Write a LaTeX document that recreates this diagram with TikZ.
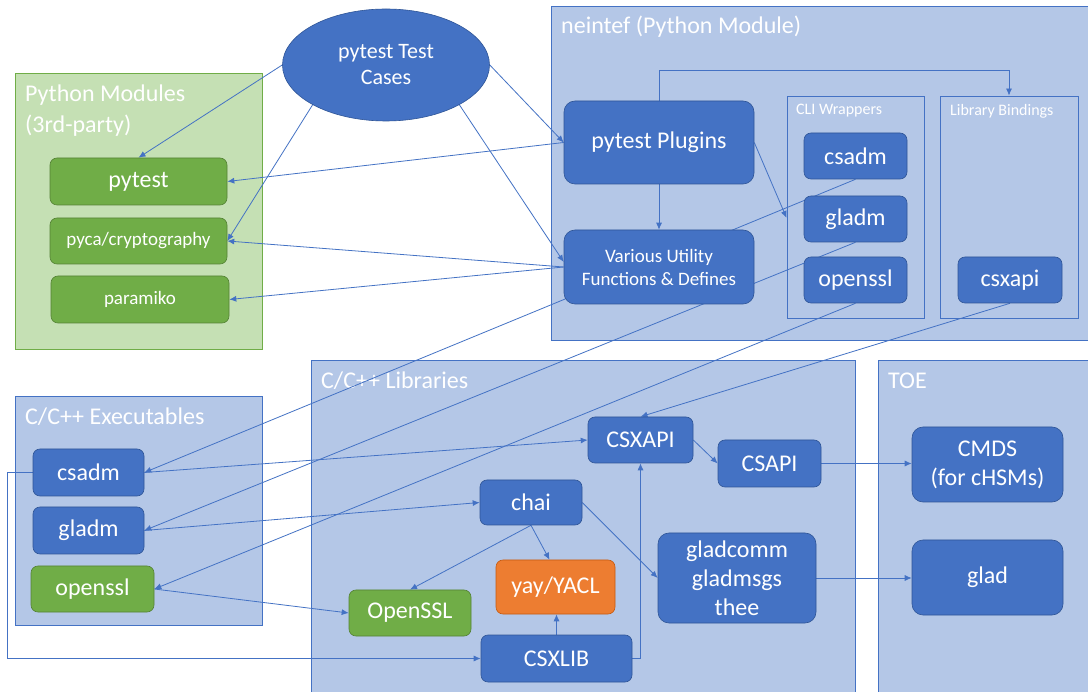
\documentclass[tikz,border=0pt]{standalone}
\usepackage{fontspec}
\setmainfont{Carlito}
\usetikzlibrary{arrows.meta, shapes.geometric}
\definecolor{nblue}{HTML}{4472C4}
\definecolor{nedge}{HTML}{2F5597}
\definecolor{grpfill}{HTML}{B4C7E7}
\definecolor{ngreen}{HTML}{70AD47}
\definecolor{gedge}{HTML}{548235}
\definecolor{gfill}{HTML}{C5E0B4}
\definecolor{norange}{HTML}{ED7D31}
\definecolor{oedge}{HTML}{C55A11}
\pgfdeclarelayer{bg}
\pgfdeclarelayer{wires}
\pgfsetlayers{bg,wires,main}

\begin{document}
\begin{tikzpicture}[x=1pt, y=-1pt,
  box/.style={draw=nedge, fill=nblue, rounded corners=7pt, text=white, align=center, line width=0.6pt, inner sep=0pt, font=\fontsize{24}{29}\selectfont},
  gbox/.style={box, draw=gedge, fill=ngreen},
  obox/.style={box, draw=oedge, fill=norange},
  grp/.style={draw=nblue, fill=grpfill, line width=0.8pt, inner sep=0pt},
  ggrp/.style={draw=ngreen, fill=gfill, line width=0.8pt, inner sep=0pt},
  ttl/.style={text=white, anchor=west, inner sep=0pt, align=left, font=\fontsize{24}{31}\selectfont},
  sttl/.style={ttl, font=\fontsize{16}{17}\selectfont},
  wire/.style={draw=nblue, line width=0.8pt, -{Latex[length=7pt,width=6pt]}}
]
\useasboundingbox (0,0) rectangle (1088,692);

\begin{pgfonlayer}{bg}
\fill[white] (0,0) rectangle (1088,692);
\node[ggrp, minimum width=247, minimum height=276] (pymods) at (138.5,211) {};
\node[grp, minimum width=544, minimum height=334] (neintef) at (823,173) {};
\node[grp, minimum width=137, minimum height=222] (cliw) at (855.5,207) {};
\node[grp, minimum width=138, minimum height=222] (libb) at (1009,207) {};
\node[grp, minimum width=247, minimum height=229] (exes) at (138.5,510.5) {};
\node[grp, minimum width=544, minimum height=340] (libs) at (583,530) {};
\node[grp, minimum width=217, minimum height=340] (toe) at (986.5,530) {};
\node[ttl] (pymodsT) at (25,110.5) {Python Modules\\(3rd-party)};
\node[ttl] (neintefT) at (561,27) {neintef (Python Module)};
\node[sttl] (cliwT) at (796,111) {CLI Wrappers};
\node[sttl] (libbT) at (950,111) {Library Bindings};
\node[ttl] (exesT) at (25,417) {C/C++ Executables};
\node[ttl] (libsT) at (321,381) {C/C++ Libraries};
\node[ttl] (toeT) at (888,381) {TOE};
\end{pgfonlayer}

\node[box, ellipse, minimum width=207, minimum height=112, font=\fontsize{22}{26}\selectfont] (cases) at (386,65) {pytest Test\\Cases};
\node[gbox, minimum width=177, minimum height=47] (pytest) at (138.5,181.5) {pytest};
\node[gbox, minimum width=177, minimum height=46, font=\fontsize{19}{20}\selectfont] (pyca) at (138.5,241) {pyca/cryptography};
\node[gbox, minimum width=178, minimum height=47, font=\fontsize{19}{20}\selectfont] (paramiko) at (140,299.5) {paramiko};
\node[box, minimum width=190, minimum height=83, rounded corners=11pt] (plug) at (659,142.5) {pytest Plugins};
\node[box, minimum width=190, minimum height=74, rounded corners=11pt, font=\fontsize{19}{23}\selectfont] (util) at (659,267) {Various Utility\\Functions \& Defines};
\node[box, minimum width=103, minimum height=46] (wcsadm) at (855.5,156) {csadm};
\node[box, minimum width=103, minimum height=46] (wgladm) at (855.5,219) {gladm};
\node[box, minimum width=103, minimum height=46] (wssl) at (855.5,280) {openssl};
\node[box, minimum width=104, minimum height=46] (bcsxapi) at (1010,280) {csxapi};
\node[box, minimum width=111, minimum height=47] (ecsadm) at (88.5,472.5) {csadm};
\node[box, minimum width=111, minimum height=47] (egladm) at (88.5,530.5) {gladm};
\node[gbox, minimum width=123, minimum height=46] (essl) at (92.5,589) {openssl};
\node[box, minimum width=102, minimum height=45] (chai) at (531,502.5) {chai};
\node[gbox, minimum width=122, minimum height=46] (ossl) at (410,613) {OpenSSL};
\node[obox, minimum width=119, minimum height=54] (yacl) at (555.5,587) {yay/YACL};
\node[box, minimum width=151, minimum height=47] (csxlib) at (556.5,658.5) {CSXLIB};
\node[box, minimum width=105, minimum height=46] (csxapi) at (640.5,440) {CSXAPI};
\node[box, minimum width=103, minimum height=47] (csapi) at (769.5,463.5) {CSAPI};
\node[box, minimum width=158, minimum height=90, rounded corners=11pt] (glc) at (737,578) {gladcomm\\gladmsgs\\thee};
\node[box, minimum width=151, minimum height=75, rounded corners=11pt] (cmds) at (987.5,464.5) {CMDS\\(for cHSMs)};
\node[box, minimum width=151, minimum height=75, rounded corners=11pt] (glad) at (987.5,577.5) {glad};

\begin{pgfonlayer}{wires}
\draw[wire] (cases.west) -- (pytest.north);
\draw[wire] (cases.south west) -- (pyca.east);
\draw[wire] (cases.east) -- (plug.west);
\draw[wire] (cases.south east) -- ([yshift=5pt]util.west);
\draw[wire] (plug.west) -- (pytest.east);
\draw[wire] (util.west) -- (pyca.east);
\draw[wire] (util.west) -- (paramiko.east);
\draw[wire] (plug.south) -- (util.north);
\draw[wire] (plug.north) -- ++(0,-30) -| (libb.north);
\draw[wire] (plug.east) -- ([yshift=-11pt]cliw.west);
\draw[wire] (wcsadm.south) -- (ecsadm.east);
\draw[wire] (wgladm.south) -- (egladm.east);
\draw[wire] (wssl.south) -- (essl.east);
\draw[wire] (bcsxapi.south) -- (csxapi.north);
\draw[wire] (ecsadm.east) -- (csxapi.west);
\draw[wire] (egladm.east) -- (chai.west);
\draw[wire] (essl.east) -- (ossl.west);
\draw[wire] (chai.south) -- (ossl.north);
\draw[wire] (chai.south) -- ([xshift=-6pt]yacl.north);
\draw[wire] (chai.east) -- (glc.west);
\draw[wire] (csxlib.north) -- (csxlib.north |- yacl.south);
\draw[wire] (csxlib.east) -| (csxapi.south);
\draw[wire] (csxapi.east) -- (csapi.west);
\draw[wire] (csapi.east) -- (csapi.east -| cmds.west);
\draw[wire] (glc.east) -- (glc.east -| glad.west);
\draw[wire] (ecsadm.west) -- ++(-25,0) |- (csxlib.west);
\end{pgfonlayer}
\end{tikzpicture}
\end{document}
